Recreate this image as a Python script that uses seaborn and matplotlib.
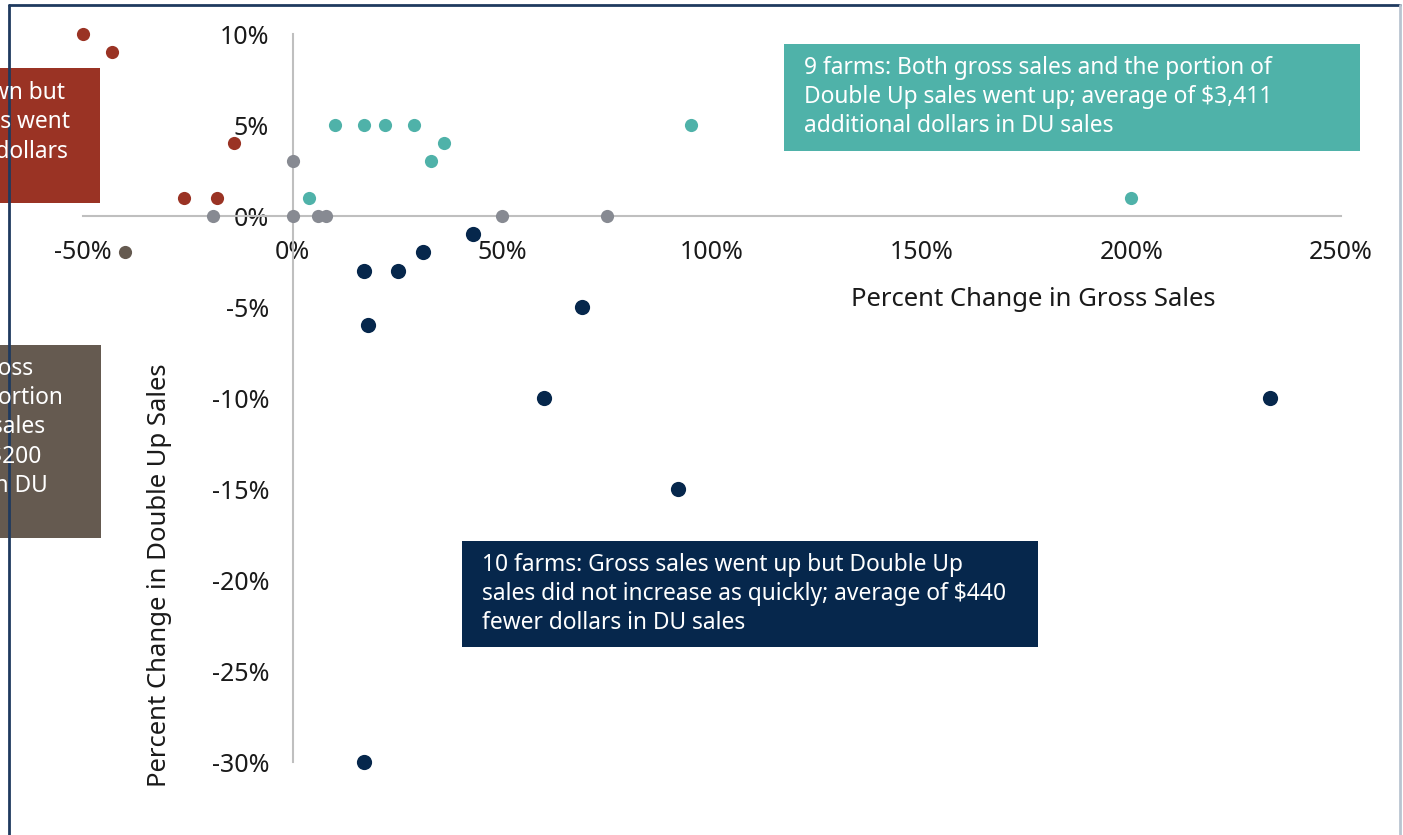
import numpy as np
import pandas as pd
import matplotlib
matplotlib.use("Agg")
import matplotlib.pyplot as plt
from matplotlib.patches import Rectangle
from matplotlib.lines import Line2D
import seaborn as sns

# --- data (percent change) ---
red_x = [-50, -43, -14, -26, -18]
red_y = [10, 9, 4, 1, 1]
brown_x = [-40]
brown_y = [-2]
teal_x = [4, 10, 17, 22, 29, 33, 36, 95, 200]
teal_y = [1, 5, 5, 5, 5, 3, 4, 5, 1]
gray_x = [0, -19, 0, 6, 8, 50, 75]
gray_y = [3, 0, 0, 0, 0, 0, 0]
navy_x = [43, 31, 25, 17, 18, 69, 60, 92, 233, 17]
navy_y = [-1, -2, -3, -3, -6, -5, -10, -15, -10, -30]

x_ticks = [-50, 0, 50, 100, 150, 200, 250]
x_labels = ["-50%", "0%", "50%", "100%", "150%", "200%", "250%"]
y_ticks = [10, 5, 0, -5, -10, -15, -20, -25, -30]
y_labels = ["10%", "5%", "0%", "-5%", "-10%", "-15%", "-20%", "-25%", "-30%"]

RED = "#9A3324"
BROWN = "#655A50"
TEAL = "#4FB2A9"
GRAY = "#878A92"
NAVY = "#06274C"

teal_text = ("9 farms: Both gross sales and the portion of\n"
             "Double Up sales went up; average of $3,411\n"
             "additional dollars in DU sales")
navy_text = ("10 farms: Gross sales went up but Double Up\n"
             "sales did not increase as quickly; average of $440\n"
             "fewer dollars in DU sales")
red_text = ("5 farms: Gross sales went down but\n"
            "the portion of Double Up sales went\n"
            "up; average of $1,204 added dollars\n"
            "in DU sales")
brown_text = ("1 farm: Both DU totals and gross\n"
              "sales went down, as did the portion\n"
              "of Double Up in overall farm sales\n"
              "over this season; average of $200\n"
              "per market, or fewer dollars in DU\n"
              "sales")

sns.set_style("white")
plt.rcParams['font.family'] = ["Noto Sans", "DejaVu Sans"]

W, H = 1403, 835
fig = plt.figure(figsize=(W / 100, H / 100), dpi=100)
ax = fig.add_axes([83 / W, 1 - 762 / H, (1341 - 83) / W, (762 - 34) / H])

groups = [(red_x, red_y, RED, 90), (brown_x, brown_y, BROWN, 90),
          (teal_x, teal_y, TEAL, 90), (gray_x, gray_y, GRAY, 90),
          (navy_x, navy_y, NAVY, 120)]
for gx, gy, col, size in groups:
    sns.scatterplot(x=gx, y=gy, color=col, s=size, linewidth=0,
                    ax=ax, clip_on=False, legend=False, zorder=3)

ax.set_xlim(-50, 250)
ax.set_ylim(-30, 10)
ax.spines['left'].set_position(('data', 0))
ax.spines['bottom'].set_position(('data', 0))
for side in ['top', 'right']:
    ax.spines[side].set_visible(False)
for side in ['left', 'bottom']:
    ax.spines[side].set_color("#BFBFBF")
    ax.spines[side].set_linewidth(1.5)
ax.set_xticks(x_ticks)
ax.set_xticklabels(x_labels)
ax.set_yticks(y_ticks)
ax.set_yticklabels(y_labels)
ax.tick_params(axis='both', length=0, labelsize=18, colors="#1a1a1a")
ax.tick_params(axis='y', pad=17)
ax.tick_params(axis='x', pad=17)
ax.patch.set_alpha(0)

fig.text(1033 / W, 1 - 299 / H, "Percent Change in Gross Sales",
         ha='center', va='center', fontsize=18.5, color="#1a1a1a")
fig.text(160 / W, 1 - 575 / H, "Percent Change in Double Up Sales",
         ha='center', va='center', rotation=90, fontsize=18.5, color="#1a1a1a")


def box(x0, y0, x1, y1, col):
    fig.add_artist(Rectangle((x0 / W, 1 - y1 / H), (x1 - x0) / W, (y1 - y0) / H,
                             transform=fig.transFigure, facecolor=col,
                             edgecolor='none', zorder=1))


box(784, 44, 1360, 151, TEAL)
box(462, 541, 1038, 647, NAVY)
box(-500, 68, 100, 203, RED)
box(-500, 345, 101, 538, BROWN)

fs_note = 16.4
ls_note = 1.29
fig.text(804 / W, 1 - 97 / H, teal_text, ha='left', va='center',
         fontsize=fs_note, color='white', linespacing=ls_note, zorder=2)
fig.text(482 / W, 1 - 594 / H, navy_text, ha='left', va='center',
         fontsize=fs_note, color='white', linespacing=ls_note, zorder=2)
fig.text(70 / W, 1 - 137 / H, red_text, ha='right', va='center',
         multialignment='left', fontsize=fs_note, color='white',
         linespacing=ls_note, zorder=2)
fig.text(63 / W, 1 - 442 / H, brown_text, ha='right', va='center',
         multialignment='left', fontsize=fs_note, color='white',
         linespacing=ls_note, zorder=2)

# slide frame
fig.add_artist(Line2D([9 / W, 9 / W], [0, 1 - 5 / H], color="#1F3A5F", lw=2))
fig.add_artist(Line2D([9 / W, 1400 / W], [1 - 5 / H, 1 - 5 / H], color="#1F3A5F", lw=2))
fig.add_artist(Line2D([1400 / W, 1400 / W], [0, 1 - 5 / H], color="#B9C4D0", lw=2))

fig.savefig("out.png", dpi=100)
